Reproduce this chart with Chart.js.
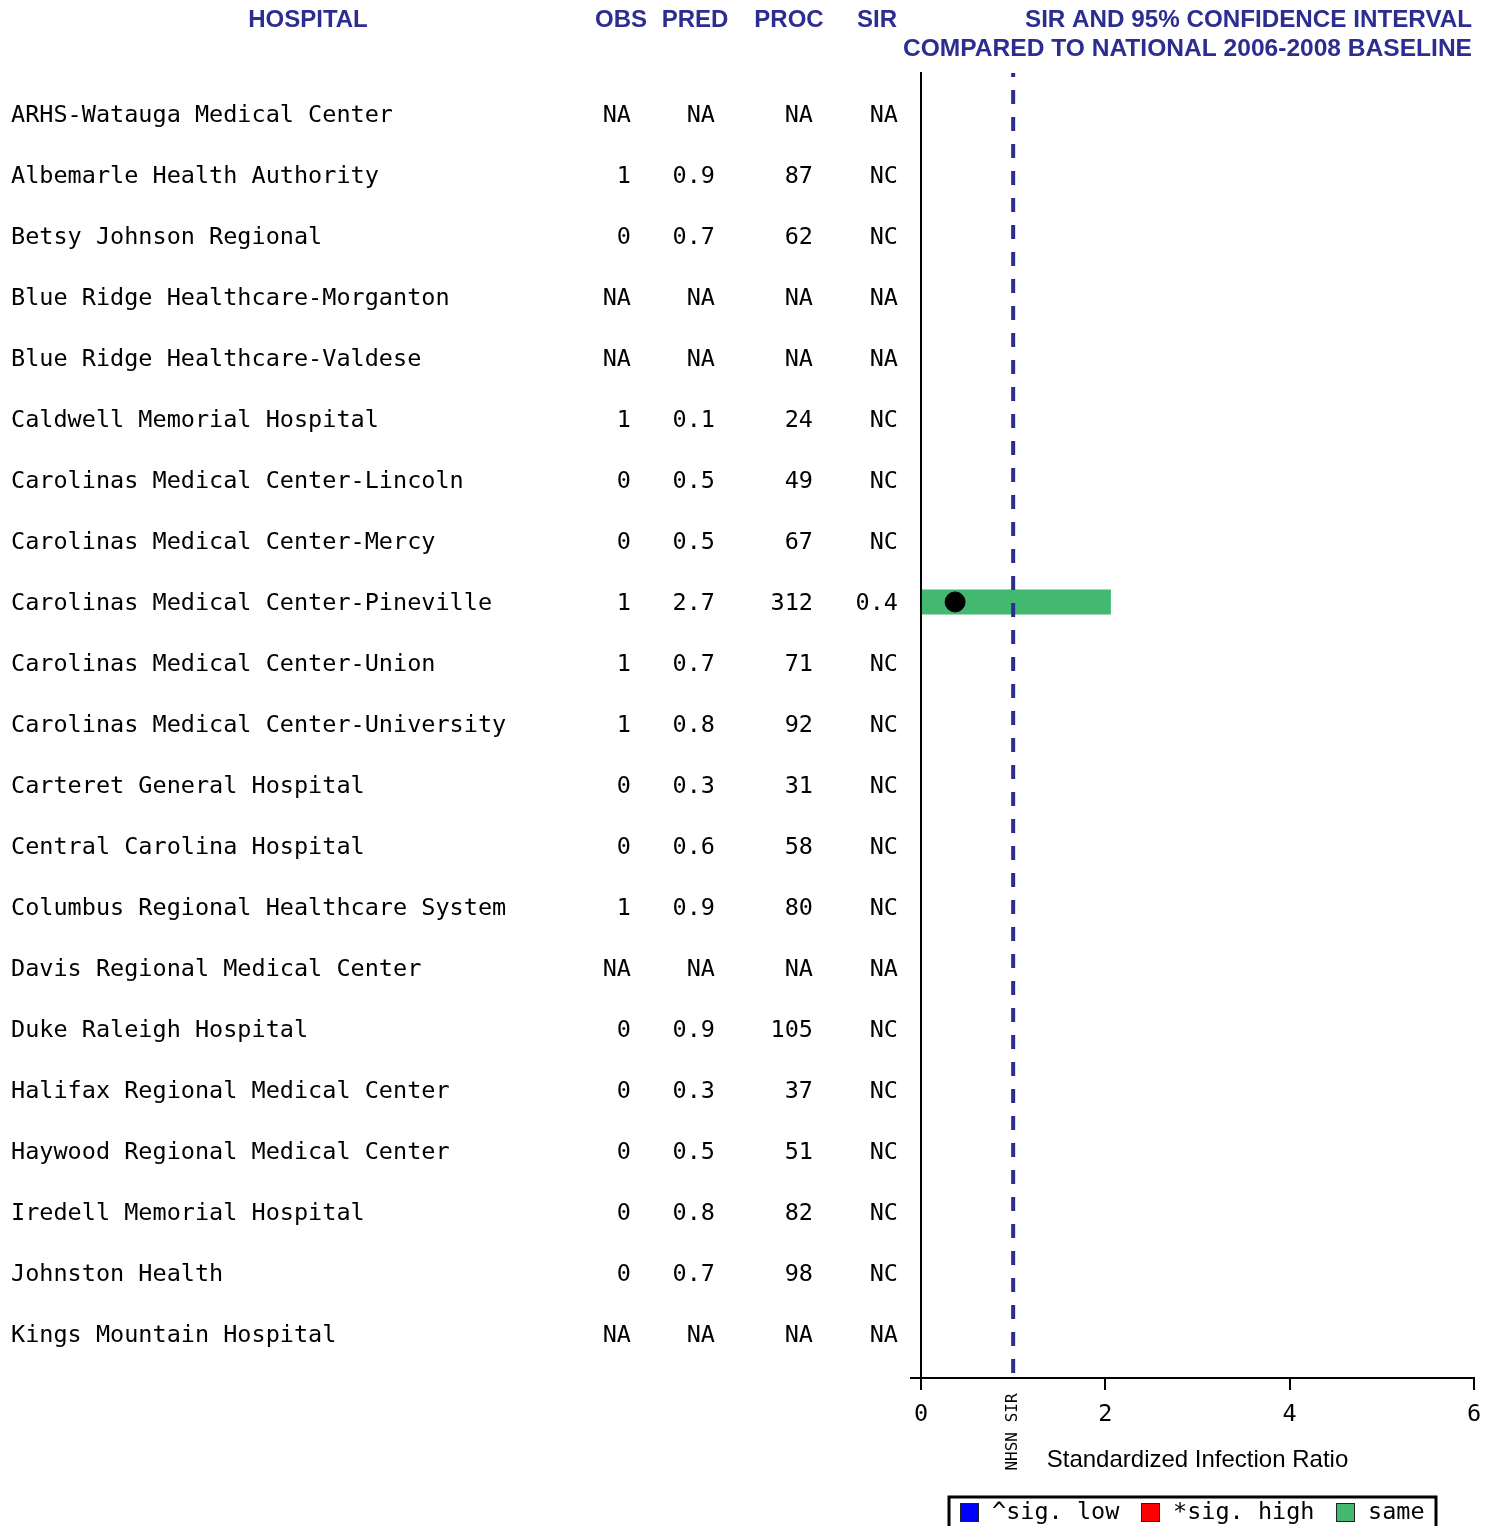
<!DOCTYPE html>
<html>
<head>
<meta charset="utf-8">
<script src="https://cdn.jsdelivr.net/npm/chart.js@4.4.0/dist/chart.umd.min.js"></script>
<style>
  body { margin: 0; background: #fff; }
  #wrap { width: 1497px; height: 1526px; }
</style>
</head>
<body>
<div id="wrap"><canvas id="sirChart" width="1497" height="1526"></canvas></div>
<script>
// table data, one entry per hospital (top to bottom)
const hospitals = [
    'ARHS-Watauga Medical Center', 'Albemarle Health Authority', 'Betsy Johnson Regional',
    'Blue Ridge Healthcare-Morganton', 'Blue Ridge Healthcare-Valdese', 'Caldwell Memorial Hospital',
    'Carolinas Medical Center-Lincoln', 'Carolinas Medical Center-Mercy', 'Carolinas Medical Center-Pineville',
    'Carolinas Medical Center-Union', 'Carolinas Medical Center-University', 'Carteret General Hospital',
    'Central Carolina Hospital', 'Columbus Regional Healthcare System', 'Davis Regional Medical Center',
    'Duke Raleigh Hospital', 'Halifax Regional Medical Center', 'Haywood Regional Medical Center',
    'Iredell Memorial Hospital', 'Johnston Health', 'Kings Mountain Hospital'
];
const obs = ['NA', '1', '0', 'NA', 'NA', '1', '0', '0', '1', '1', '1', '0', '0', '1', 'NA', '0', '0', '0', '0', '0', 'NA'];
const pred = ['NA', '0.9', '0.7', 'NA', 'NA', '0.1', '0.5', '0.5', '2.7', '0.7', '0.8', '0.3', '0.6', '0.9', 'NA', '0.9', '0.3', '0.5', '0.8', '0.7', 'NA'];
const proc = ['NA', '87', '62', 'NA', 'NA', '24', '49', '67', '312', '71', '92', '31', '58', '80', 'NA', '105', '37', '51', '82', '98', 'NA'];
const sirText = ['NA', 'NC', 'NC', 'NA', 'NA', 'NC', 'NC', 'NC', '0.4', 'NC', 'NC', 'NC', 'NC', 'NC', 'NA', 'NC', 'NC', 'NC', 'NC', 'NC', 'NA'];

// plotted values (null = not drawn)
const sirValue = [null, null, null, null, null, null, null, null, 0.37, null, null, null, null, null, null, null, null, null, null, null, null];
const ciLow = [null, null, null, null, null, null, null, null, 0.01, null, null, null, null, null, null, null, null, null, null, null, null];
const ciHigh = [null, null, null, null, null, null, null, null, 2.06, null, null, null, null, null, null, null, null, null, null, null, null];
const ciGroup = [null, null, null, null, null, null, null, null, 'same', null, null, null, null, null, null, null, null, null, null, null, null];

const nhsnBaseline = 1;
const xTicks = [0, 2, 4, 6];
const legendLabels = ['^sig. low', '*sig. high', 'same'];
const legendColors = ['#0000FF', '#FF0000', '#42B870'];

const MONO = '"DejaVu Sans Mono", monospace';
const SANS = '"Liberation Sans", Arial, sans-serif';
const BLUE = '#2B2D91';

const groupColor = { low: legendColors[0], high: legendColors[1], same: legendColors[2] };

// CI bars as thick line segments
const ciSets = [];
hospitals.forEach((h, i) => {
    if (ciLow[i] === null) return;
    ciSets.push({
        type: 'line',
        data: [{ x: ciLow[i], y: i }, { x: ciHigh[i], y: i }],
        borderColor: groupColor[ciGroup[i]],
        borderWidth: 25,
        borderCapStyle: 'butt',
        pointRadius: 0,
        order: 3
    });
});

const pointData = [];
sirValue.forEach((v, i) => { if (v !== null) pointData.push({ x: v, y: i }); });

// right-aligned text squeezed/stretched to a given width
function fitRight(ctx, text, right, y, width) {
    const w = ctx.measureText(text).width;
    ctx.save();
    ctx.translate(right, y);
    ctx.scale(width / w, 1);
    ctx.textAlign = 'right';
    ctx.fillText(text, 0, 0);
    ctx.restore();
}

const tablePlugin = {
    id: 'tablePlugin',
    afterDraw(chart) {
        const ctx = chart.ctx;
        const y = chart.scales.y;
        const x = chart.scales.x;
        ctx.save();

        // headers
        ctx.fillStyle = BLUE;
        ctx.font = 'bold 24px ' + SANS;
        ctx.textBaseline = 'middle';
        ctx.textAlign = 'center';
        ctx.fillText('HOSPITAL', 308, 20);
        ctx.fillText('OBS', 621, 20);
        ctx.fillText('PRED', 695, 20);
        ctx.fillText('PROC', 789, 20);
        ctx.fillText('SIR', 877, 20);
        fitRight(ctx, 'SIR AND 95% CONFIDENCE INTERVAL', 1472, 20, 447);
        fitRight(ctx, 'COMPARED TO NATIONAL 2006-2008 BASELINE', 1472, 49, 569);

        // rows
        ctx.fillStyle = '#000';
        ctx.font = '23.5px ' + MONO;
        hospitals.forEach((name, i) => {
            const py = y.getPixelForValue(i) + 2;
            ctx.textAlign = 'left';
            ctx.fillText(name, 11, py);
            ctx.textAlign = 'right';
            ctx.fillText(obs[i], 631, py);
            ctx.fillText(pred[i], 715, py);
            ctx.fillText(proc[i], 813, py);
            ctx.fillText(sirText[i], 898, py);
        });

        // x axis extends a little left of the y axis
        ctx.strokeStyle = '#000';
        ctx.lineWidth = 2;
        ctx.beginPath();
        ctx.moveTo(910, x.top);
        ctx.lineTo(x.left, x.top);
        ctx.stroke();

        // NHSN SIR label under the baseline
        ctx.save();
        ctx.translate(x.getPixelForValue(nhsnBaseline), 1432);
        ctx.rotate(-Math.PI / 2);
        ctx.font = '16px ' + MONO;
        ctx.textAlign = 'center';
        ctx.fillText('NHSN SIR', 0, 0);
        ctx.restore();

        // legend box
        ctx.lineWidth = 3;
        ctx.strokeRect(949, 1497, 487, 40);
        ctx.font = '23.5px ' + MONO;
        ctx.textAlign = 'left';
        const boxX = [960, 1141, 1336];
        legendLabels.forEach((lab, k) => {
            ctx.fillStyle = legendColors[k];
            ctx.fillRect(boxX[k], 1503, 18, 18);
            ctx.lineWidth = 1;
            ctx.strokeStyle = '#222';
            ctx.strokeRect(boxX[k] + 0.5, 1503.5, 18, 18);
            ctx.fillStyle = '#000';
            ctx.fillText(lab, boxX[k] + 32, 1513);
        });
        ctx.restore();
    }
};

new Chart(document.getElementById('sirChart'), {
    type: 'scatter',
    data: {
        datasets: [
            {
                label: 'SIR',
                data: pointData,
                backgroundColor: '#000',
                borderColor: '#000',
                pointRadius: 10,
                order: 1
            },
            {
                type: 'line',
                label: 'NHSN SIR',
                data: [{ x: nhsnBaseline, y: -0.67 }, { x: nhsnBaseline, y: 20.72 }],
                borderColor: BLUE,
                borderWidth: 4,
                borderDash: [14, 13],
                borderDashOffset: 10,
                pointRadius: 0,
                order: 2
            },
            ...ciSets
        ]
    },
    options: {
        responsive: false,
        animation: false,
        devicePixelRatio: 1,
        layout: { padding: { left: 921, top: 73, right: 23, bottom: 0 } },
        plugins: {
            legend: { display: false },
            tooltip: { enabled: false }
        },
        scales: {
            x: {
                type: 'linear',
                min: 0,
                max: 6,
                afterBuildTicks: s => { s.ticks = xTicks.map(v => ({ value: v })); },
                afterFit: s => { s.height = 148; },
                ticks: { color: '#000', font: { family: MONO, size: 23.5 }, padding: 11, maxRotation: 0 },
                grid: { drawOnChartArea: false, drawTicks: true, tickLength: 12, color: '#000', lineWidth: 2 },
                border: { display: true, color: '#000', width: 2 },
                title: {
                    display: true,
                    text: 'Standardized Infection Ratio',
                    color: '#000',
                    font: { family: SANS, size: 24 },
                    padding: { top: 0, bottom: 51 }
                }
            },
            y: {
                type: 'linear',
                reverse: true,
                min: -0.67,
                max: 20.72,
                afterFit: s => { s.width = 0; },
                ticks: { display: false },
                grid: { drawOnChartArea: false, drawTicks: false },
                border: { display: true, color: '#000', width: 2 }
            }
        }
    },
    plugins: [tablePlugin]
});
</script>
</body>
</html>
